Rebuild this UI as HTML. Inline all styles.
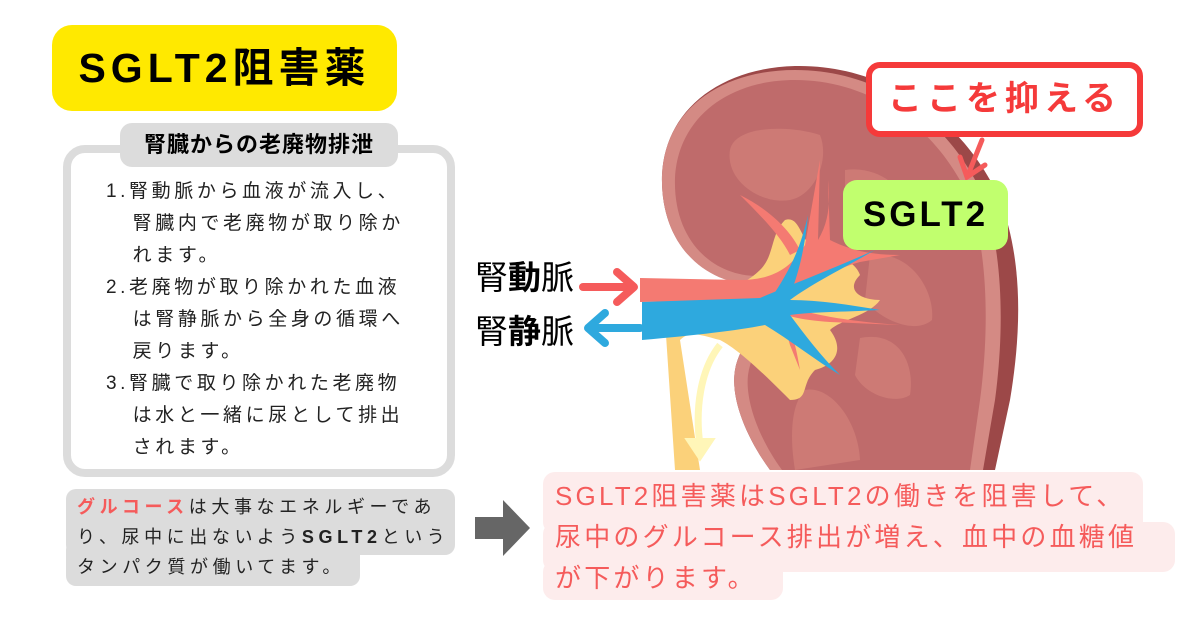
<!DOCTYPE html>
<html><head><meta charset="utf-8"><style>
*{margin:0;padding:0;box-sizing:border-box}
body{width:1200px;height:630px;background:#fff;position:relative;overflow:hidden;font-family:"Liberation Sans","Noto Sans CJK JP",sans-serif}
.a{position:absolute;white-space:nowrap}
</style></head><body>
<svg class="a" style="left:0;top:0" width="1200" height="630" viewBox="0 0 1200 630">
  <path d="M760,285 C705,285 660,245 662,175 C665,110 720,68 795,66 C885,64 965,120 1000,200 C1025,265 1020,340 1010,400 L995,470 L770,470 C748,440 730,400 735,370 C740,340 770,320 760,285 Z" fill="#9c4848"/>
  <path d="M758,285 C705,285 660,245 662,175 C665,110 720,70 795,70 C880,70 950,120 985,200 C1005,265 1003,340 995,400 L983,470 L770,470 C748,440 730,400 735,370 C740,340 770,320 758,285 Z" fill="#d48a84"/>
  <path d="M758,276 C712,276 673,240 675,178 C678,118 728,80 795,80 C872,80 938,128 970,200 C990,262 988,340 980,400 L970,470 L782,470 C760,440 745,402 748,375 C752,345 780,320 758,276 Z" fill="#bf6b6b"/>
  <path d="M730,150 C735,125 790,125 820,135 C830,160 815,195 790,200 C760,205 725,180 730,150Z" fill="#cd7a75"/>
  <path d="M845,170 C880,165 910,190 915,225 C900,245 860,240 845,220Z" fill="#cd7a75"/>
  <path d="M870,255 C910,250 935,290 932,320 C915,335 880,320 865,300Z" fill="#cd7a75"/>
  <path d="M860,338 C900,330 915,365 910,395 C895,405 865,395 855,375Z" fill="#cd7a75"/>
  <path d="M805,390 C830,385 858,420 860,460 L795,470 C790,440 790,405 805,390Z" fill="#cd7a75"/>
  <path d="M785,220 C800,215 800,240 815,250 C835,255 855,260 860,275 C845,290 860,300 880,300 C870,315 840,320 830,330 C845,350 835,365 815,370 C800,385 810,400 790,400 C770,380 740,350 720,340 C700,335 690,330 680,340 L700,470 L675,470 L665,320 C700,300 740,290 760,270 C775,255 770,235 785,220Z" fill="#fbd17a"/>
  <path d="M720,345 C700,370 695,410 700,445" stroke="#fff6b8" stroke-width="7" fill="none"/>
  <path d="M688,440 L700,458 L712,440Z" fill="#fff6b8" stroke="#fff6b8" stroke-width="4"/>
  <path d="M640,278 L740,280 C770,280 790,270 805,245 L820,160 L818,240 C830,220 830,200 828,180 L830,240 C850,250 870,255 900,255 L860,262 C830,270 800,290 780,300 L640,302 Z" fill="#f47a72"/>
  <path d="M760,295 C790,310 830,320 900,325 L830,322 C800,320 780,315 760,305Z" fill="#f47a72"/>
  <path d="M770,300 C790,320 795,340 800,370 L790,345 C785,325 775,315 765,305Z" fill="#f47a72"/>
  <path d="M740,195 C770,210 790,230 800,250 L790,255 C780,235 760,215 740,195Z" fill="#f47a72"/>
  <path d="M642,302 L760,298 C790,285 830,270 875,250 C840,270 810,285 790,300 C820,300 850,305 880,310 C840,312 810,312 790,315 C805,335 820,355 840,375 C815,360 790,340 765,325 C740,330 700,335 642,340 Z" fill="#2ea9de"/>
  <path d="M770,300 C790,270 800,250 808,215 C805,245 800,270 790,295Z" fill="#2ea9de"/>
  <path d="M583,287 L632,287" stroke="#f55b5b" stroke-width="8" stroke-linecap="round"/>
  <path d="M617,272 L634,287 L617,302" stroke="#f55b5b" stroke-width="8" fill="none" stroke-linecap="round" stroke-linejoin="round"/>
  <path d="M640,328 L590,328" stroke="#2ea9de" stroke-width="8" stroke-linecap="round"/>
  <path d="M605,313 L588,328 L605,343" stroke="#2ea9de" stroke-width="8" fill="none" stroke-linecap="round" stroke-linejoin="round"/>
  <path d="M982,140 L968,175" stroke="#f55b5b" stroke-width="5" stroke-linecap="round"/>
  <path d="M960,157 L967,177 L985,165" stroke="#f55b5b" stroke-width="5" fill="none" stroke-linecap="round"/>
  <path d="M475,517 L503,517 L503,500 L530,528 L503,556 L503,539 L475,539Z" fill="#666"/>
</svg>

<div class="a" style="left:52px;top:25px;width:345px;height:86px;background:#ffe900;border-radius:20px;font-size:41px;font-weight:bold;letter-spacing:5px;line-height:86px;text-align:center">SGLT2阻害薬</div>

<div class="a" style="left:866px;top:62px;width:277px;height:75px;border:6px solid #f53a3a;border-radius:14px;background:#fff;color:#f53a3a;font-size:34px;font-weight:bold;letter-spacing:5px;line-height:63px;text-align:center">ここを抑える</div>
<div class="a" style="left:843px;top:180px;width:165px;height:70px;background:#c1ff6e;border-radius:14px;font-size:35px;font-weight:bold;letter-spacing:3px;line-height:70px;text-align:center">SGLT2</div>

<div class="a" style="left:475px;top:258px;font-size:33px;line-height:40px">腎<b>動</b>脈</div>
<div class="a" style="left:475px;top:312px;font-size:33px;line-height:40px">腎<b>静</b>脈</div>

<div class="a" style="left:63px;top:145px;width:392px;height:332px;border:8px solid #dcdcdc;border-radius:22px;background:#fff"></div>
<div class="a" style="left:120px;top:123px;width:278px;height:44px;background:#dcdcdc;border-radius:12px;font-size:22px;font-weight:bold;line-height:44px;text-align:center;letter-spacing:1px">腎臓からの老廃物排泄</div>
<div class="a" style="left:106px;top:176px;font-size:19px;line-height:32px;letter-spacing:3.6px;color:#222">
1.腎動脈から血液が流入し、<br>&nbsp;&nbsp;&nbsp;腎臓内で老廃物が取り除か<br>&nbsp;&nbsp;&nbsp;れます。<br>2.老廃物が取り除かれた血液<br>&nbsp;&nbsp;&nbsp;は腎静脈から全身の循環へ<br>&nbsp;&nbsp;&nbsp;戻ります。<br>3.腎臓で取り除かれた老廃物<br>&nbsp;&nbsp;&nbsp;は水と一緒に尿として排出<br>&nbsp;&nbsp;&nbsp;されます。</div>

<div class="a" style="left:66px;top:489px;width:389px;height:66px;background:#dcdcdc;border-radius:10px"></div>
<div class="a" style="left:66px;top:540px;width:294px;height:46px;background:#dcdcdc;border-radius:10px"></div>
<div class="a" style="left:77px;top:492px;font-size:18px;line-height:30px;letter-spacing:4.6px;color:#222"><span style="color:#f55b5b;font-weight:bold">グルコース</span>は大事なエネルギーであ<br>り、尿中に出ないよう<b>SGLT2</b>という<br>タンパク質が働いてます。</div>

<div class="a" style="left:543px;top:472px;width:600px;height:62px;background:#fdecec;border-radius:12px"></div>
<div class="a" style="left:543px;top:522px;width:632px;height:50px;background:#fdecec;border-radius:12px"></div>
<div class="a" style="left:543px;top:560px;width:240px;height:40px;background:#fdecec;border-radius:12px"></div>
<div class="a" style="left:555px;top:476px;font-size:26px;line-height:41px;letter-spacing:3.2px;color:#f55b5b">SGLT2阻害薬はSGLT2の働きを阻害して、<br>尿中のグルコース排出が増え、血中の血糖値<br>が下がります。</div>
</body></html>
